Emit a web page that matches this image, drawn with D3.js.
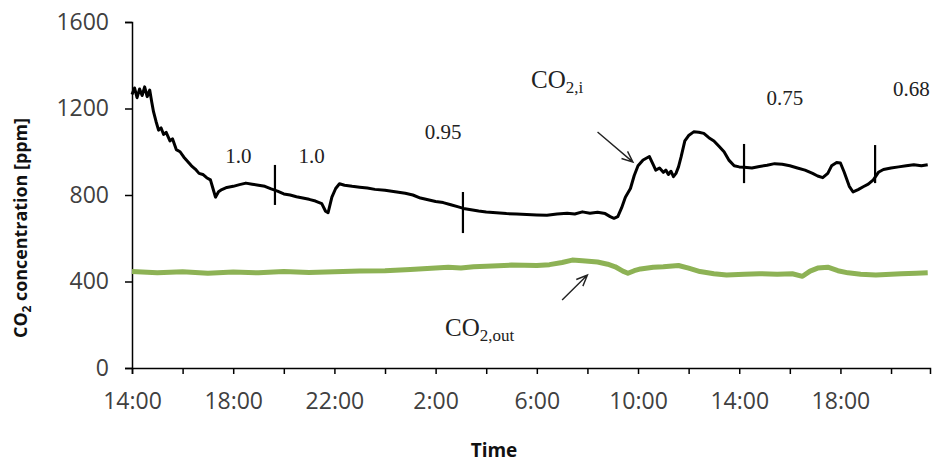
<!DOCTYPE html>
<html><head><meta charset="utf-8">
<script src="https://cdn.jsdelivr.net/npm/d3@7"></script>
<style>body{margin:0;background:#fff}svg{display:block}</style>
</head><body><svg id="c" width="936" height="465"></svg>
<script>
// hours since 14:00 on day 1, CO2 ppm
const indoorCO2 = [
[0,1265],[0.1,1295],[0.2,1250],[0.3,1290],[0.4,1260],[0.5,1300],[0.6,1255],[0.7,1285],[0.78,1230],[0.85,1185],[0.95,1140],[1.05,1100],[1.15,1110],[1.25,1080],[1.35,1090],[1.5,1050],[1.6,1060],[1.75,1010],[1.9,1000],[2.05,975],[2.2,955],[2.35,935],[2.5,920],[2.65,900],[2.8,895],[2.95,880],[3.1,870],[3.2,830],[3.3,790],[3.42,815],[3.55,825],[3.75,835],[4.0,840],[4.25,848],[4.5,855],[4.75,850],[5.0,845],[5.25,840],[5.5,828],[5.75,818],[6.0,805],[6.25,800],[6.5,792],[6.75,786],[7.0,780],[7.25,772],[7.5,760],[7.65,725],[7.75,718],[7.9,790],[8.05,830],[8.2,852],[8.4,845],[8.7,840],[9.0,836],[9.3,832],[9.6,826],[10.0,822],[10.4,815],[10.8,808],[11.1,800],[11.4,786],[11.7,778],[12.0,770],[12.3,765],[12.6,755],[12.9,745],[13.1,738],[13.4,732],[13.7,726],[14.0,721],[14.4,718],[14.8,714],[15.2,712],[15.6,710],[16.0,708],[16.4,706],[16.8,712],[17.2,716],[17.5,712],[17.8,722],[18.1,716],[18.4,720],[18.7,714],[18.9,700],[19.05,692],[19.2,700],[19.35,740],[19.5,790],[19.7,830],[19.85,890],[20.0,935],[20.2,962],[20.45,978],[20.6,940],[20.7,915],[20.85,925],[21.0,905],[21.1,915],[21.2,895],[21.3,910],[21.4,885],[21.5,900],[21.6,930],[21.7,975],[21.85,1050],[22.0,1075],[22.2,1092],[22.4,1090],[22.6,1085],[22.8,1065],[23.0,1050],[23.2,1025],[23.4,1000],[23.6,960],[23.8,935],[24.0,930],[24.2,928],[24.5,925],[24.8,932],[25.1,938],[25.4,945],[25.7,942],[26.0,935],[26.3,925],[26.6,915],[26.9,900],[27.1,888],[27.3,880],[27.5,900],[27.65,935],[27.85,950],[28.0,948],[28.15,905],[28.35,840],[28.5,814],[28.7,825],[28.9,838],[29.1,850],[29.3,870],[29.5,905],[29.7,918],[30.0,925],[30.3,930],[30.6,935],[30.9,940],[31.2,935],[31.45,940]
];
const outdoorCO2 = [
[0,446],[1,440],[2,445],[3,438],[4,444],[5,440],[6,446],[7,442],[8,445],[9,448],[10,450],[11,455],[12,462],[12.5,466],[13,462],[13.5,468],[14,470],[15,476],[16,474],[16.5,478],[17,488],[17.4,499],[17.8,496],[18.4,490],[18.8,480],[19.1,468],[19.4,448],[19.6,438],[19.85,450],[20.1,458],[20.6,466],[21,468],[21.6,474],[22,462],[22.45,446],[23,436],[23.5,430],[24.2,434],[24.8,436],[25.5,434],[26.1,436],[26.5,424],[26.8,448],[27.1,462],[27.5,466],[27.9,450],[28.3,440],[28.8,434],[29.4,430],[30,434],[30.4,436],[31,438],[31.45,440]
];
const yTicks = [0,400,800,1200,1600];
const xTickHours = [0,2,4,6,8,10,12,14,16,18,20,22,24,26,28,30];
const xLabelHours = [0,4,8,12,16,20,24,28];
// ventilation-period markers: hour, low, high
const markerHours = [5.65,13.08,24.19,29.37];
const markerLow = [754,624,855,855];
const markerHigh = [939,814,1036,1031];
// period labels: text, hour, value
const periodText = ["1.0","1.0","0.95","0.75","0.68"];
const periodHour = [4.2,7.1,12.3,25.8,30.8];
const periodValue = [980,980,1090,1250,1290];

const svg = d3.select("#c");
const x = d3.scaleLinear().domain([0,31.54]).range([132,930]);
const y = d3.scaleLinear().domain([0,1600]).range([368,22]);

const yAxis = svg.append("g").attr("transform","translate(132,0)")
  .call(d3.axisLeft(y).tickValues(yTicks).tickSize(7).tickPadding(14).tickFormat(d3.format("d")));
const xAxis = svg.append("g").attr("transform","translate(0,368)")
  .call(d3.axisBottom(x).tickValues(xTickHours).tickSize(6).tickPadding(19)
    .tickFormat(h => xLabelHours.includes(h) ? ((14+h)%24)+":00" : ""));
[yAxis,xAxis].forEach(g=>{
  g.select(".domain").attr("stroke","#000").attr("stroke-width",1.5);
  g.selectAll(".tick line").attr("stroke","#000").attr("stroke-width",1.5);
  g.selectAll("text").attr("font-family","'Open Sans',sans-serif").attr("font-size",23).attr("fill","#404040");
});
yAxis.selectAll("text").attr("dx",-2);

const line = d3.line().x(d=>x(d[0])).y(d=>y(d[1]));
svg.append("path").datum(outdoorCO2).attr("d",line).attr("fill","none")
  .attr("stroke","#8db255").attr("stroke-width",5).attr("stroke-linejoin","round");
svg.append("path").datum(indoorCO2).attr("d",line).attr("fill","none")
  .attr("stroke","#000").attr("stroke-width",3).attr("stroke-linejoin","round");

markerHours.forEach((h,i)=>{
  svg.append("line").attr("x1",x(h)).attr("x2",x(h)).attr("y1",y(markerLow[i])).attr("y2",y(markerHigh[i]))
    .attr("stroke","#000").attr("stroke-width",2.2);
});
periodText.forEach((t,i)=>{
  svg.append("text").attr("x",x(periodHour[i])).attr("y",y(periodValue[i])).attr("text-anchor","middle")
    .attr("dominant-baseline","central").attr("font-family","'Liberation Serif',serif").attr("font-size",21)
    .attr("fill","#222").text(t);
});

function label(tx,ty,sub){
  const t = svg.append("text").attr("x",tx).attr("y",ty).attr("font-family","'Liberation Serif',serif")
    .attr("font-size",25).attr("fill","#222");
  t.append("tspan").text("CO");
  t.append("tspan").attr("font-size",17).attr("dy",5).text("2,"+sub);
}
label(531,88,"i");
label(445,336,"out");

function arrow(h1,v1,h2,v2){
  const x1=x(h1),y1=y(v1),x2=x(h2),y2=y(v2);
  const a=Math.atan2(y2-y1,x2-x1), L=12, s=0.4;
  const p = `M${x1},${y1}L${x2},${y2}M${x2-L*Math.cos(a-s)},${y2-L*Math.sin(a-s)}L${x2},${y2}L${x2-L*Math.cos(a+s)},${y2-L*Math.sin(a+s)}`;
  svg.append("path").attr("d",p).attr("fill","none").attr("stroke","#222").attr("stroke-width",1.4);
}
arrow(18.4,1091,19.8,952);
arrow(17.0,314,18.0,430);

const yt = svg.append("text").attr("transform","translate(27,228) rotate(-90)").attr("text-anchor","middle")
  .attr("font-family","'Open Sans',sans-serif").attr("font-weight","bold").attr("font-size",18).attr("fill","#111")
  .attr("textLength",220).attr("lengthAdjust","spacingAndGlyphs");
yt.append("tspan").text("CO");
yt.append("tspan").attr("font-size",12).attr("dy",4).text("2");
yt.append("tspan").attr("dy",-4).text(" concentration [ppm]");

svg.append("text").attr("x",494).attr("y",457).attr("text-anchor","middle")
  .attr("font-family","'Open Sans',sans-serif").attr("font-weight","bold").attr("font-size",19).attr("fill","#111").text("Time");
</script></body></html>
